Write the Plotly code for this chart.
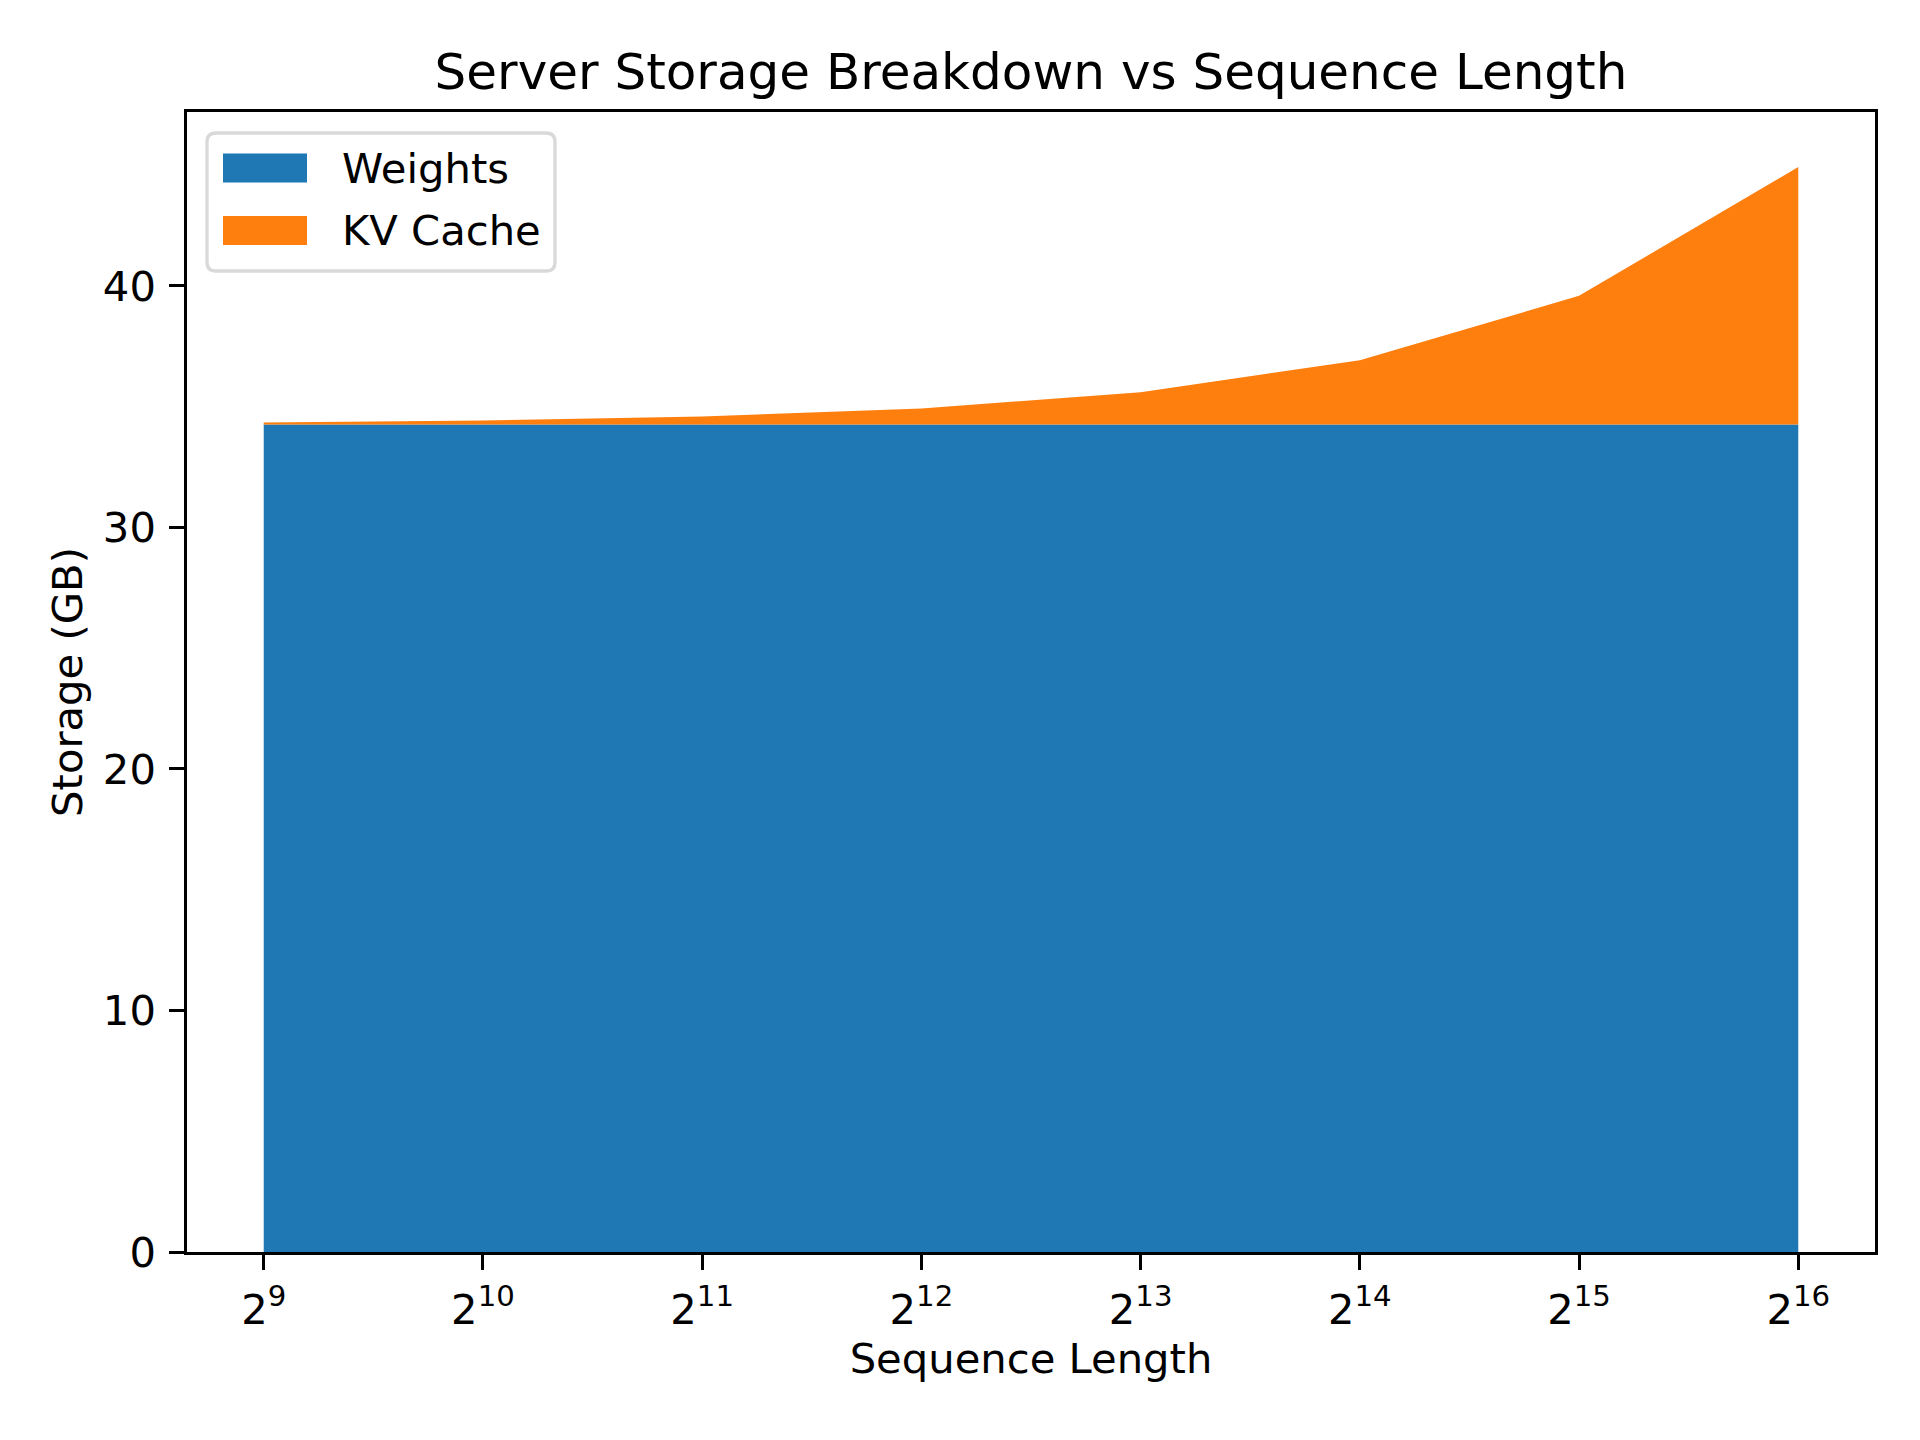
import math
import plotly.graph_objects as go

# ---- data ----
seq_len = [512, 1024, 2048, 4096, 8192, 16384, 32768, 65536]
weights_gb = [34.26, 34.26, 34.26, 34.26, 34.26, 34.26, 34.26, 34.26]
kv_cache_gb = [0.083, 0.167, 0.333, 0.666, 1.333, 2.665, 5.33, 10.66]
x_tick_vals = [512, 1024, 2048, 4096, 8192, 16384, 32768, 65536]
x_tick_text = ["2<sup>9</sup>", "2<sup>10</sup>", "2<sup>11</sup>", "2<sup>12</sup>",
               "2<sup>13</sup>", "2<sup>14</sup>", "2<sup>15</sup>", "2<sup>16</sup>"]
y_tick_vals = [0, 10, 20, 30, 40]
series_names = ["Weights", "KV Cache"]

FONT = "DejaVu Sans"
BLUE = "#1f77b4"
ORANGE = "#ff7f0e"
colors = [BLUE, ORANGE]

W, H = 1920, 1440
ML, MR, MT, MB = 187, 45, 112, 188
PW = W - ML - MR
PH = H - MT - MB


def px(xp):
    return (xp - ML) / PW


def py(yp):
    return 1 - (yp - MT) / PH


fig = go.Figure()
for name, vals, col in zip(series_names, [weights_gb, kv_cache_gb], colors):
    fig.add_trace(go.Scatter(
        x=seq_len, y=vals, name=name, mode="lines",
        stackgroup="one", line=dict(width=0, color=col), fillcolor=col,
        showlegend=False,
    ))

lo = math.log10(2) * 8.65
hi = math.log10(2) * 16.35

axis_common = dict(
    showline=True, linecolor="black", linewidth=3.3, mirror=True,
    ticks="outside", ticklen=14.6, tickwidth=3.3, tickcolor="black",
    showgrid=False, zeroline=False,
    tickfont=dict(family=FONT, size=41.7, color="black"),
)

# ---- legend drawn matplotlib-style (rounded frame, patch swatches) ----
lx0, lx1, ly0, ly1 = 207, 555, 133, 271
r = 9
rx, ry = r / PW, r / PH
X0, X1, Y0, Y1 = px(lx0), px(lx1), py(ly0), py(ly1)
path = (f"M {X0+rx},{Y0} L {X1-rx},{Y0} Q {X1},{Y0} {X1},{Y0-ry} "
        f"L {X1},{Y1+ry} Q {X1},{Y1} {X1-rx},{Y1} "
        f"L {X0+rx},{Y1} Q {X0},{Y1} {X0},{Y1+ry} "
        f"L {X0},{Y0-ry} Q {X0},{Y0} {X0+rx},{Y0} Z")
shapes = [dict(type="path", path=path, xref="paper", yref="paper",
               fillcolor="rgba(255,255,255,0.8)", line=dict(color="#d9d9d9", width=3.3),
               layer="above")]
annotations = []
row_centers = [168, 230.5]
for name, col, yc in zip(series_names, colors, row_centers):
    shapes.append(dict(type="rect", xref="paper", yref="paper",
                       x0=px(223), x1=px(307), y0=py(yc - 14.5), y1=py(yc + 14.5),
                       fillcolor=col, line=dict(width=0), layer="above"))
    annotations.append(dict(text=name, xref="paper", yref="paper",
                            x=px(340), y=py(yc), xanchor="left", yanchor="middle",
                            showarrow=False,
                            font=dict(family=FONT, size=41.7, color="black")))

fig.update_layout(
    width=W, height=H,
    margin=dict(l=ML, r=MR, t=MT, b=MB),
    paper_bgcolor="white", plot_bgcolor="white",
    font=dict(family=FONT, color="black"),
    title=dict(
        text="Server Storage Breakdown vs Sequence Length",
        font=dict(family=FONT, size=50, color="black"),
        x=0.5, xref="paper", xanchor="center",
        y=1 - 71 / 1440, yref="container", yanchor="middle",
    ),
    xaxis=dict(
        type="log", range=[lo, hi],
        tickvals=x_tick_vals, ticktext=x_tick_text,
        title=dict(text="Sequence Length", font=dict(family=FONT, size=41.7, color="black"), standoff=8),
        ticklabelstandoff=4,
        **axis_common,
    ),
    yaxis=dict(
        range=[0, 47.2], tickvals=y_tick_vals,
        title=dict(text="Storage (GB)", font=dict(family=FONT, size=41.7, color="black"), standoff=8),
        ticklabelstandoff=5,
        **axis_common,
    ),
    shapes=shapes,
    annotations=annotations,
    showlegend=False,
)

fig.write_html("out.html")
